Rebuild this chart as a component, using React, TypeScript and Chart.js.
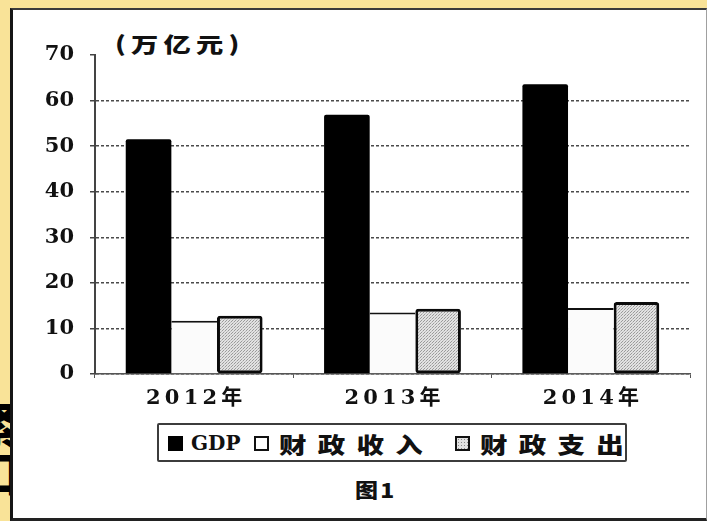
import React, { useEffect, useRef } from "react";
import { Chart, registerables } from "chart.js";

Chart.register(...registerables);

const categories = ["2012年", "2013年", "2014年"];
const seriesNames = ["GDP", "财政收入", "财政支出"];
const gdp = [51.5, 56.9, 63.6];
const revenue = [11.7, 13.5, 14.5];
const expenditure = [12.8, 14.3, 15.8];
const yMin = 0;
const yMax = 70;
const yStep = 10;
const unitLabel = "(万亿元)";
const figureLabel = "图1";

const SERIF = "'DejaVu Serif', 'Noto Sans CJK SC', serif";
const CJK = "'Noto Sans CJK SC', 'DejaVu Serif', sans-serif";

export default function App() {
  const ref = useRef<HTMLCanvasElement | null>(null);

  useEffect(() => {
    const canvas = ref.current;
    if (!canvas) return;
    const ctx = canvas.getContext("2d")!;
    const pc = document.createElement("canvas");
    pc.width = 3;
    pc.height = 3;
    const g = pc.getContext("2d")!;
    g.fillStyle = "#e2e2e2";
    g.fillRect(0, 0, 3, 3);
    g.fillStyle = "#9a9a9a";
    g.fillRect(0, 0, 1, 1);
    g.fillRect(1, 2, 1, 1);
    g.fillStyle = "#bdbdbd";
    g.fillRect(2, 1, 1, 1);
    const pattern = ctx.createPattern(pc, "repeat")!;

    const chart = new Chart(canvas, {
      type: "bar",
      data: {
        labels: categories,
        datasets: [
          {
            label: seriesNames[0],
            data: gdp,
            backgroundColor: "#000000",
            borderWidth: 0,
            borderRadius: 2,
          },
          {
            label: seriesNames[1],
            data: revenue,
            backgroundColor: "#fbfbfb",
            borderColor: "#111111",
            borderWidth: { top: 2, left: 0, right: 0, bottom: 0 },
          },
          {
            label: seriesNames[2],
            data: expenditure,
            backgroundColor: pattern,
            borderColor: "#0a0a0a",
            borderWidth: 3,
            borderRadius: 3,
            borderSkipped: false,
          },
        ],
      },
      options: {
        responsive: false,
        animation: false,
        devicePixelRatio: 1,
        datasets: { bar: { categoryPercentage: 0.69, barPercentage: 1 } },
        layout: { padding: { left: 0, top: 55, right: 17, bottom: 0 } },
        plugins: {
          legend: { display: false },
          tooltip: { enabled: false },
          title: { display: false },
        },
        scales: {
          x: {
            grid: {
              display: true,
              drawOnChartArea: false,
              drawTicks: true,
              tickLength: 4,
              offset: true,
              color: "#555555",
            },
            border: { display: true, color: "#555555", width: 1.5 },
            ticks: {
              color: "#111111",
              padding: 8,
              font: { family: SERIF, size: 21, weight: "bold" },
              callback: function (this: any, v: any) {
                const s = String(this.getLabelForValue(v));
                return s.split("").join("\u2009");
              },
            },
            afterFit: (scale: any) => {
              scale.height = 147;
            },
          },
          y: {
            min: yMin,
            max: yMax,
            grid: {
              color: (c: any) => (c.tick && c.tick.value === yMax ? "rgba(0,0,0,0)" : "#4a4a4a"),
              tickColor: "#444444",
              lineWidth: 1.5,
              drawTicks: true,
              tickLength: 5,
            },
            border: { display: true, color: "#444444", width: 2, dash: [3, 2] },
            ticks: {
              stepSize: yStep,
              color: "#111111",
              padding: 16,
              font: { family: SERIF, size: 21, weight: "bold" },
            },
            afterFit: (scale: any) => {
              scale.width = 95;
            },
          },
        },
      },
    });
    return () => chart.destroy();
  }, []);

  const sq = (extra: React.CSSProperties): React.CSSProperties => ({
    position: "absolute",
    top: 436,
    width: 15,
    height: 15,
    boxSizing: "border-box",
    ...extra,
  });

  const txt = (left: number, family: string, size: number, extra: React.CSSProperties = {}): React.CSSProperties => ({
    position: "absolute",
    left,
    fontFamily: family,
    fontSize: size,
    fontWeight: 900,
    color: "#111",
    lineHeight: 1,
    whiteSpace: "nowrap",
    transformOrigin: "left center",
    ...extra,
  });

  return (
    <div
      style={{
        position: "fixed",
        left: 0,
        top: 0,
        width: 707,
        height: 521,
        overflow: "hidden",
        background: "#f9e398",
      }}
    >
      <div
        style={{
          position: "absolute",
          left: 0,
          top: 400,
          width: 10,
          height: 121,
          overflow: "hidden",
        }}
      >
        <span
          style={{
            position: "absolute",
            left: -36,
            top: 2,
            fontFamily: CJK,
            fontWeight: 900,
            fontSize: 48,
            lineHeight: 1.3,
            writingMode: "vertical-rl",
            color: "#000",
          }}
        >
          紧扣
        </span>
      </div>
      <div
        style={{
          position: "absolute",
          left: 10,
          top: 8,
          width: 697,
          height: 513,
          boxSizing: "border-box",
          background: "#ffffff",
          borderLeft: "3px solid #151515",
          borderTop: "2px solid #3a3a3a",
          borderBottom: "3px solid #222222",
          borderRight: "1px solid #a0a0a0",
        }}
      />
      <div style={txt(115, CJK, 21, { top: 33, letterSpacing: 4, transform: "scaleX(1.3)" })}>{unitLabel}</div>
      <div
        style={{
          position: "absolute",
          left: 157,
          top: 423,
          width: 470,
          height: 39,
          boxSizing: "border-box",
          border: "2px solid #3c3c3c",
          borderRadius: 2,
        }}
      />
      <div style={sq({ left: 168, background: "#000" })} />
      <div style={txt(191, SERIF, 20, { top: 433, fontWeight: "bold", letterSpacing: 0 })}>{seriesNames[0]}</div>
      <div style={sq({ left: 254, background: "#fff", border: "2px solid #111" })} />
      <div style={txt(279, CJK, 22, { top: 432, letterSpacing: 9, transform: "scaleX(1.25)" })}>{seriesNames[1]}</div>
      <div
        style={sq({
          left: 455,
          border: "2px solid #111",
          background: "radial-gradient(#8a8a8a 0.8px, #e2e2e2 1px) 0 0 / 3px 3px",
        })}
      />
      <div style={txt(480, CJK, 22, { top: 432, letterSpacing: 9, transform: "scaleX(1.25)" })}>{seriesNames[2]}</div>
      <div style={txt(355, CJK, 20, { top: 480, letterSpacing: 2, transform: "scaleX(1.15)" })}>{figureLabel}</div>
      <canvas
        ref={ref}
        width={707}
        height={521}
        style={{ position: "absolute", left: 0, top: 0, width: 707, height: 521, display: "block" }}
      />
    </div>
  );
}
